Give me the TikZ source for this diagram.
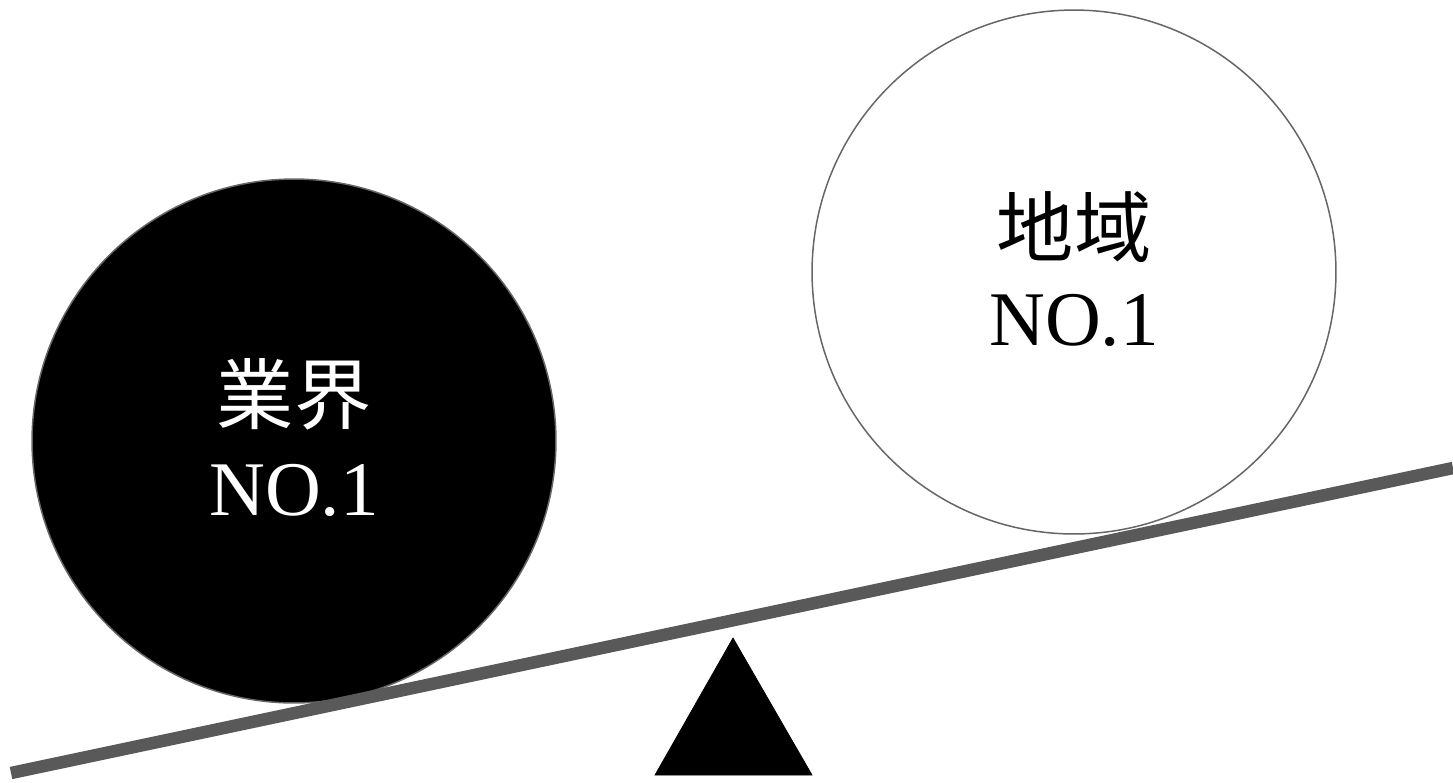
\documentclass[tikz,border=0pt]{standalone}
\usepackage{fontspec}
\setmainfont{Liberation Serif}
\newfontfamily\jpfont{Noto Sans CJK JP}
\usepackage{tikz}
\usetikzlibrary{calc}
\definecolor{beamgray}{HTML}{595959}
\definecolor{rimgray}{HTML}{666666}
\def\bigtext{\fontsize{44}{50}\selectfont}

\begin{document}
\begin{tikzpicture}[x=0.02cm, y=-0.02cm,
		ball/.style={circle, draw=rimgray, line width=0.03cm, minimum size=10.48cm, inner sep=0pt},
		kanji/.style={font=\jpfont\bigtext, inner sep=0pt},
		rank/.style={font=\bigtext, inner sep=0pt}]
		%%%%% START %%%%%
		
		\useasboundingbox (0, 0) rectangle (1453, 782);
		
		\node[ball, fill=black] (industry) at (294, 441) {};
		\node[kanji, text=white] (industryname) at (294, 394) {業界};
		\node[rank, text=white] (industryrank) at (294, 490) {NO.1};
		
		\node[ball, fill=white] (local) at (1074, 272) {};
		\node[kanji] (localname) at (1074, 227) {地域};
		\node[rank] (localrank) at (1074, 320) {NO.1};
		
		\draw[line width=0.25cm, color=beamgray] (11, 773) -- (1453, 468);
		
		\draw[fill=black] (733, 638) -- (812, 775) -- (655, 775) -- cycle;
		
		%%%%% END %%%%%
	\end{tikzpicture}
\end{document}
